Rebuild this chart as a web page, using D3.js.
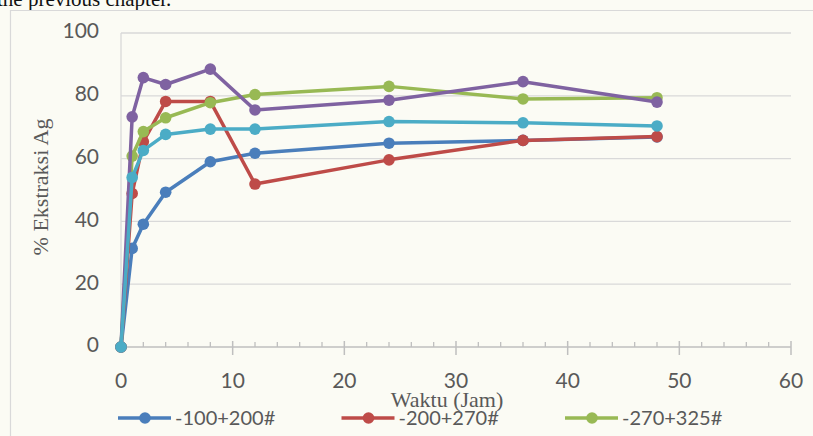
<!DOCTYPE html>
<html>
<head>
<meta charset="utf-8">
<script src="https://cdn.jsdelivr.net/npm/d3@7"></script>
<style>
  html, body { margin: 0; padding: 0; background: #fbfbf4; }
  svg { display: block; }
</style>
</head>
<body>
<svg id="chart" width="813" height="436"></svg>
<script>
// Extraction time (hours)
const hours = [0, 1, 2, 4, 8, 12, 24, 36, 48];

// % Ag extracted per particle size fraction
const seriesNames = ["-100+200#", "-200+270#", "-270+325#", "-325+400#", "-400#"];
const size100_200 = [0, 31.4, 39.1, 49.3, 59.0, 61.7, 64.9, 65.8, 66.9];
const size200_270 = [0, 48.9, 65.4, 78.2, 78.2, 51.9, 59.6, 65.8, 67.0];
const size270_325 = [0, 60.8, 68.6, 73.0, 77.8, 80.4, 83.0, 79.0, 79.4];
const size325_400 = [0, 73.3, 85.8, 83.6, 88.5, 75.5, 78.6, 84.5, 78.0];
const size400 = [0, 54.0, 62.6, 67.7, 69.4, 69.4, 71.8, 71.4, 70.4];
const seriesColors = ["#4a7ebb", "#be4b48", "#98b954", "#7f62a1", "#4bacc6"];

const xTicks = [0, 10, 20, 30, 40, 50, 60];
const yTicks = [0, 20, 40, 60, 80, 100];

const allSeries = [size100_200, size200_270, size270_325, size325_400, size400];

const svg = d3.select("#chart");

// Running text from the page above the figure
svg.append("text")
  .attr("x", -3).attr("y", 6)
  .attr("font-family", "Liberation Serif, serif")
  .attr("font-size", 21)
  .attr("fill", "#111")
  .text("the previous chapter.");

// Chart frame
svg.append("path")
  .attr("d", "M10.5,436 V10.5 H813")
  .attr("fill", "none")
  .attr("stroke", "#d9d9d9")
  .attr("stroke-width", 1.2);

const x = d3.scaleLinear().domain([0, 60]).range([121, 791]);
const y = d3.scaleLinear().domain([0, 100]).range([347, 33]);

// Horizontal gridlines
svg.append("g")
  .selectAll("line")
  .data(yTicks.filter(v => v > 0))
  .join("line")
  .attr("x1", x(0)).attr("x2", x(60))
  .attr("y1", d => y(d)).attr("y2", d => y(d))
  .attr("stroke", "#d9d9d9")
  .attr("stroke-width", 1.3);

// Vertical axis line
svg.append("line")
  .attr("x1", x(0)).attr("x2", x(0))
  .attr("y1", y(100)).attr("y2", y(0))
  .attr("stroke", "#d9d9d9")
  .attr("stroke-width", 1.3);

// Y tick labels
svg.append("g")
  .selectAll("text")
  .data(yTicks)
  .join("text")
  .attr("x", 99)
  .attr("y", d => y(d) - 2)
  .attr("dy", "0.35em")
  .attr("text-anchor", "end")
  .attr("font-family", "Lato, sans-serif")
  .attr("font-size", 21)
  .attr("fill", "#595959")
  .text(d => d);

// X axis with major ticks every 10 and minor ticks every 2
const xAxis = svg.append("g");
xAxis.append("line")
  .attr("x1", x(0)).attr("x2", x(60))
  .attr("y1", y(0)).attr("y2", y(0))
  .attr("stroke", "#bfbfbf")
  .attr("stroke-width", 1.5);
xAxis.selectAll("line.minor")
  .data(d3.range(2, 60, 2).filter(v => v % 10 !== 0))
  .join("line")
  .attr("class", "minor")
  .attr("x1", d => x(d)).attr("x2", d => x(d))
  .attr("y1", y(0) - 5).attr("y2", y(0))
  .attr("stroke", "#bfbfbf")
  .attr("stroke-width", 1.3);
xAxis.selectAll("line.major")
  .data(xTicks.filter(v => v > 0))
  .join("line")
  .attr("class", "major")
  .attr("x1", d => x(d)).attr("x2", d => x(d))
  .attr("y1", y(0) - 6).attr("y2", y(0) + 8)
  .attr("stroke", "#bfbfbf")
  .attr("stroke-width", 1.5);
xAxis.selectAll("text")
  .data(xTicks)
  .join("text")
  .attr("x", d => x(d))
  .attr("y", 381)
  .attr("dy", "0.35em")
  .attr("text-anchor", "middle")
  .attr("font-family", "Lato, sans-serif")
  .attr("font-size", 21)
  .attr("fill", "#595959")
  .text(d => d);

// Axis titles
svg.append("text")
  .attr("transform", "translate(40,187) rotate(-90)")
  .attr("text-anchor", "middle")
  .attr("dy", "0.35em")
  .attr("font-family", "Liberation Serif, serif")
  .attr("font-size", 22)
  .attr("fill", "#595959")
  .text("% Ekstraksi Ag");

svg.append("text")
  .attr("x", 447).attr("y", 399)
  .attr("text-anchor", "middle")
  .attr("dy", "0.35em")
  .attr("font-family", "Liberation Serif, serif")
  .attr("font-size", 22)
  .attr("fill", "#595959")
  .text("Waktu (Jam)");

// Series lines and markers
const line = d3.line().x((d, i) => x(hours[i])).y(d => y(d));
const plot = svg.append("g");
allSeries.forEach((vals, s) => {
  const g = plot.append("g");
  g.append("path")
    .attr("d", line(vals))
    .attr("fill", "none")
    .attr("stroke", seriesColors[s])
    .attr("stroke-width", 3.5)
    .attr("stroke-linejoin", "round");
  g.selectAll("circle")
    .data(vals)
    .join("circle")
    .attr("cx", (d, i) => x(hours[i]))
    .attr("cy", d => y(d))
    .attr("r", 5.8)
    .attr("fill", seriesColors[s]);
});

// Legend (first row)
const legend = svg.append("g");
seriesNames.slice(0, 3).forEach((name, i) => {
  const lx = 118 + 223.5 * i;
  const ly = 418;
  legend.append("line")
    .attr("x1", lx).attr("x2", lx + 53)
    .attr("y1", ly).attr("y2", ly)
    .attr("stroke", seriesColors[i])
    .attr("stroke-width", 3.5);
  legend.append("circle")
    .attr("cx", lx + 27).attr("cy", ly)
    .attr("r", 5.8)
    .attr("fill", seriesColors[i]);
  legend.append("text")
    .attr("x", lx + 57).attr("y", ly)
    .attr("dy", "0.35em")
    .attr("font-family", "Lato, sans-serif")
    .attr("font-size", 20)
    .attr("fill", "#595959")
    .text(name);
});
</script>
</body>
</html>
